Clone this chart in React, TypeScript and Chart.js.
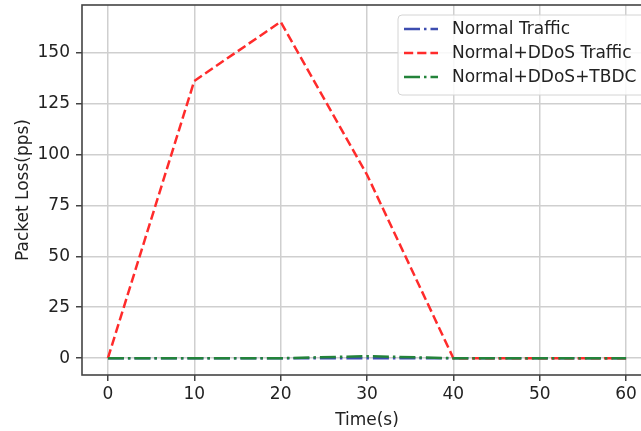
import React, { useEffect, useRef } from "react";
import { Chart, registerables } from "chart.js";

Chart.register(...registerables);

const timeS = [0, 10, 20, 30, 40, 50, 60];
const normalTraffic = [0, 0, 0, 0, 0, 0, 0];
const ddosTraffic = [0, 136, 165, 90, 0, 0, 0];
const tbdcTraffic = [0, 0, 0, 1, 0, 0, 0];
const xTicks = [0, 10, 20, 30, 40, 50, 60];
const yTicks = [0, 25, 50, 75, 100, 125, 150];
const seriesNames = ["Normal Traffic", "Normal+DDoS Traffic", "Normal+DDoS+TBDC"];
const seriesColors = ["#3d4db0", "#ff2b2b", "#23833a"];
const DASH_DOT = [16, 4, 2.5, 4];
const DASHED = [9.2, 4];
const seriesDash = [DASH_DOT, DASHED, DASH_DOT];

const FONT = "'DejaVu Sans', sans-serif";

const framePlugin = {
  id: "frame",
  afterDatasetsDraw(chart: any) {
    const { ctx, chartArea } = chart;
    ctx.save();
    ctx.strokeStyle = "#444";
    ctx.lineWidth = 1.6;
    ctx.strokeRect(chartArea.left, chartArea.top, chartArea.right - chartArea.left, chartArea.bottom - chartArea.top);
    ctx.restore();
  },
};

const legendPlugin = {
  id: "mplLegend",
  afterDraw(chart: any) {
    const { ctx } = chart;
    ctx.save();
    const x = 398, y = 15, w = 280, h = 80, r = 4;
    ctx.beginPath();
    ctx.moveTo(x + r, y);
    ctx.lineTo(x + w - r, y);
    ctx.arcTo(x + w, y, x + w, y + r, r);
    ctx.lineTo(x + w, y + h - r);
    ctx.arcTo(x + w, y + h, x + w - r, y + h, r);
    ctx.lineTo(x + r, y + h);
    ctx.arcTo(x, y + h, x, y + h - r, r);
    ctx.lineTo(x, y + r);
    ctx.arcTo(x, y, x + r, y, r);
    ctx.closePath();
    ctx.fillStyle = "rgba(255,255,255,0.85)";
    ctx.fill();
    ctx.strokeStyle = "#d4d4d4";
    ctx.lineWidth = 1;
    ctx.stroke();
    ctx.font = `17px ${FONT}`;
    ctx.textBaseline = "middle";
    ctx.textAlign = "left";
    seriesNames.forEach((name, i) => {
      const ry = 29 + i * 24;
      ctx.beginPath();
      ctx.setLineDash(seriesDash[i]);
      ctx.strokeStyle = seriesColors[i];
      ctx.lineWidth = 2.5;
      ctx.moveTo(404, ry);
      ctx.lineTo(438, ry);
      ctx.stroke();
      ctx.setLineDash([]);
      ctx.fillStyle = "#222";
      ctx.fillText(name, 452, ry + 1);
    });
    ctx.restore();
  },
};

export default function App() {
  const ref = useRef<HTMLCanvasElement | null>(null);
  useEffect(() => {
    if (!ref.current) return;
    const series = [normalTraffic, ddosTraffic, tbdcTraffic];
    const chart = new Chart(ref.current, {
      type: "line",
      data: {
        datasets: series.map((vals, i) => ({
          label: seriesNames[i],
          data: timeS.map((t, k) => ({ x: t, y: vals[k] })),
          borderColor: seriesColors[i],
          backgroundColor: seriesColors[i],
          borderDash: seriesDash[i],
          borderWidth: 2.5,
          pointRadius: 0,
          tension: 0,
          fill: false,
          order: 3 - i,
        })),
      },
      options: {
        animation: false,
        responsive: false,
        maintainAspectRatio: false,
        layout: { padding: { top: 5, right: 28, left: 0, bottom: 0 } },
        plugins: { legend: { display: false }, tooltip: { enabled: false } },
        scales: {
          x: {
            type: "linear",
            min: -3,
            max: 63,
            afterBuildTicks: (s: any) => {
              s.ticks = xTicks.map((v) => ({ value: v }));
            },
            afterFit: (s: any) => {
              s.height = 56;
              s.paddingLeft = 0;
              s.paddingRight = 0;
              s.paddingTop = 0;
              s.paddingBottom = 0;
            },
            grid: { color: "#cfcfcf", lineWidth: 1.5, tickLength: 6, tickColor: "#444", drawTicks: true },
            border: { display: false },
            ticks: { font: { family: FONT, size: 17 }, color: "#222", padding: 3, maxRotation: 0 },
            title: { display: true, text: "Time(s)", font: { family: FONT, size: 17 }, color: "#222", padding: { top: 0, bottom: 0 } },
          },
          y: {
            type: "linear",
            min: -8.25,
            max: 173.25,
            afterBuildTicks: (s: any) => {
              s.ticks = yTicks.map((v) => ({ value: v }));
            },
            afterFit: (s: any) => {
              s.width = 82;
              s.paddingLeft = 0;
              s.paddingRight = 0;
              s.paddingTop = 0;
              s.paddingBottom = 0;
            },
            grid: { color: "#cfcfcf", lineWidth: 1.5, tickLength: 6, tickColor: "#444", drawTicks: true },
            border: { display: false },
            ticks: { font: { family: FONT, size: 17 }, color: "#222", padding: 6 },
            title: { display: true, text: "Packet Loss(pps)", font: { family: FONT, size: 17 }, color: "#222", padding: { top: 13, bottom: 0 } },
          },
        },
      },
      plugins: [framePlugin, legendPlugin],
    });
    return () => chart.destroy();
  }, []);
  return (
    <div style={{ position: "fixed", left: 0, top: 0, width: 641, height: 431, overflow: "hidden", background: "#fff" }}>
      <canvas ref={ref} width={680} height={431} style={{ width: 680, height: 431, display: "block" }} />
    </div>
  );
}
